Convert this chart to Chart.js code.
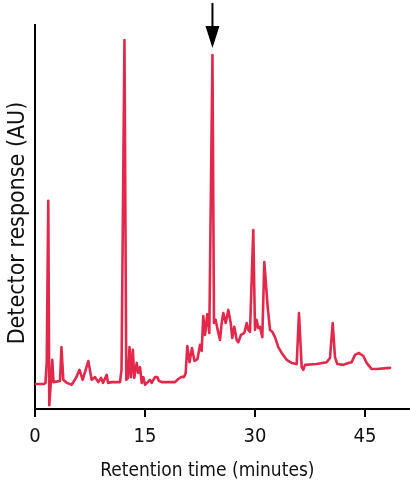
<!DOCTYPE html>
<html>
<head>
<meta charset="utf-8">
<script src="https://cdn.jsdelivr.net/npm/chart.js@4/dist/chart.umd.min.js"></script>
<style>
  html, body { margin: 0; padding: 0; background: #fff; }
  #wrap { width: 410px; height: 488px; }
</style>
</head>
<body>
<div id="wrap"><canvas id="c" width="410" height="488"></canvas></div>
<script>
// Retention time (minutes)
const timeMin = [
  0, 1.23, 1.43, 1.60, 1.81, 1.95, 2.36, 2.52, 3.41, 3.61, 3.86, 4.36, 5.00, 5.59, 6.07, 6.50,
  7.27, 7.73, 8.18, 8.63, 9.00, 9.27, 9.78, 9.95, 10.50, 11.59, 11.80, 12.20, 12.45, 12.68,
  12.89, 13.09, 13.34, 13.54, 13.87, 14.09, 14.32, 14.55, 14.77, 15.00, 15.68, 15.91, 16.36,
  16.68, 16.91, 17.32, 19.09, 19.54, 20.00, 20.32, 20.55, 20.77, 21.07, 21.41, 21.75, 22.16,
  22.50, 22.73, 22.95, 23.18, 23.50, 23.77, 24.20, 24.41, 24.64, 24.91, 25.23, 25.46, 25.68,
  26.00, 26.36, 26.69, 26.90, 27.18, 27.50, 27.72, 28.09, 28.54, 28.87, 29.09, 29.32, 29.77,
  30.00, 30.23, 30.45, 30.68, 31.00, 31.27, 31.73, 32.05, 32.36, 32.73, 33.18, 33.64, 34.32,
  35.00, 35.69, 36.00, 36.37, 36.59, 36.82, 38.41, 39.78, 40.23, 40.60, 40.91, 41.22, 42.04,
  42.72, 43.19, 43.64, 44.18, 44.77, 45.23, 45.91, 46.59, 48.41
];
// Detector response (AU, relative)
const response = [
  6.5, 6.5, 6.8, 12.2, 54.2, 1.0, 12.8, 7.0, 7.3, 16.1, 7.6, 6.8, 6.3, 8.1, 10.2, 7.6,
  12.5, 7.6, 8.3, 7.0, 8.1, 6.8, 8.9, 6.8, 7.0, 7.0, 10.2, 96.1, 7.6, 8.1,
  16.1, 8.3, 15.4, 8.1, 12.0, 9.4, 10.9, 6.8, 8.3, 6.3, 7.6, 6.8, 8.3,
  8.3, 7.3, 7.0, 7.0, 7.8, 8.4, 8.3, 9.4, 16.4, 12.2, 15.9, 12.5, 13.0,
  16.7, 15.1, 24.2, 19.3, 24.7, 19.8, 92.2, 22.4, 23.2, 20.6, 18.0, 22.4, 25.0,
  22.4, 25.8, 22.4, 18.5, 21.4, 18.0, 17.4, 19.3, 19.8, 22.4, 20.6, 20.1, 46.6,
  20.6, 23.2, 21.1, 21.4, 18.7, 38.3, 26.6, 20.6, 20.1, 18.7, 16.1, 14.6, 12.8,
  12.0, 11.7, 25.0, 10.9, 10.2, 11.5, 11.7, 12.2, 13.3, 22.4, 13.5, 11.7, 11.5,
  12.0, 12.2, 14.1, 14.6, 13.8, 12.0, 10.4, 10.4, 10.7
];
const xTicks = [0, 15, 30, 45];
const xMax = 51.14;
const yMax = 100;
const arrowAt = 24.20;      // marked peak (minutes)
const arrowPeak = 92.2;     // its response
const xTitle = 'Retention time (minutes)';
const yTitle = 'Detector response (AU)';

const FONT = "'Liberation Sans Narrow', 'DejaVu Sans Condensed', 'Liberation Sans', sans-serif";
const LINE = '#e2294b';

const decorPlugin = {
  id: 'decor',
  afterDraw(chart) {
    const {ctx, scales: {x, y}} = chart;
    // arrow marking the peak
    const px = x.getPixelForValue(arrowAt);
    const tip = y.getPixelForValue(arrowPeak) - 7;
    ctx.save();
    ctx.strokeStyle = '#000';
    ctx.fillStyle = '#000';
    ctx.lineWidth = 2;
    ctx.beginPath();
    ctx.moveTo(px, 3);
    ctx.lineTo(px, tip - 18);
    ctx.stroke();
    ctx.beginPath();
    ctx.moveTo(px - 7, tip - 22);
    ctx.lineTo(px + 7, tip - 22);
    ctx.lineTo(px, tip);
    ctx.closePath();
    ctx.fill();
    // axis titles
    ctx.fillStyle = '#111';
    ctx.textAlign = 'center';
    ctx.textBaseline = 'middle';
    ctx.font = '19px ' + FONT;
    ctx.fillText(xTitle, x.getPixelForValue(23.5) , 471);
    ctx.translate(18, 223);
    ctx.rotate(-Math.PI / 2);
    ctx.font = '23px ' + FONT;
    ctx.fillText(yTitle, 0, 0);
    ctx.restore();
  }
};

new Chart(document.getElementById('c'), {
  type: 'line',
  data: {
    datasets: [{
      data: timeMin.map((t, i) => ({x: t, y: response[i]})),
      borderColor: LINE,
      borderWidth: 2.6,
      pointRadius: 0,
      tension: 0,
      fill: false,
      borderJoinStyle: 'round',
      borderCapStyle: 'round'
    }]
  },
  options: {
    responsive: false,
    animation: false,
    layout: {padding: {top: 25, left: 0, right: 0, bottom: 0}},
    plugins: {legend: {display: false}, tooltip: {enabled: false}},
    scales: {
      x: {
        type: 'linear',
        min: 0,
        max: xMax,
        afterBuildTicks: s => { s.ticks = xTicks.map(v => ({value: v})); },
        afterFit: s => { s.height = 79; },
        grid: {display: true, drawOnChartArea: false, drawTicks: true, tickLength: 8, color: '#000', lineWidth: 2},
        border: {display: true, color: '#000', width: 2},
        ticks: {color: '#111', font: {family: FONT, size: 20}, padding: 8, maxRotation: 0, autoSkip: false},
        title: {display: false}
      },
      y: {
        type: 'linear',
        min: 0,
        max: yMax,
        afterFit: s => { s.width = 35; },
        grid: {display: false},
        border: {display: true, color: '#000', width: 2},
        ticks: {display: false},
        title: {display: false}
      }
    }
  },
  plugins: [decorPlugin]
});
</script>
</body>
</html>
